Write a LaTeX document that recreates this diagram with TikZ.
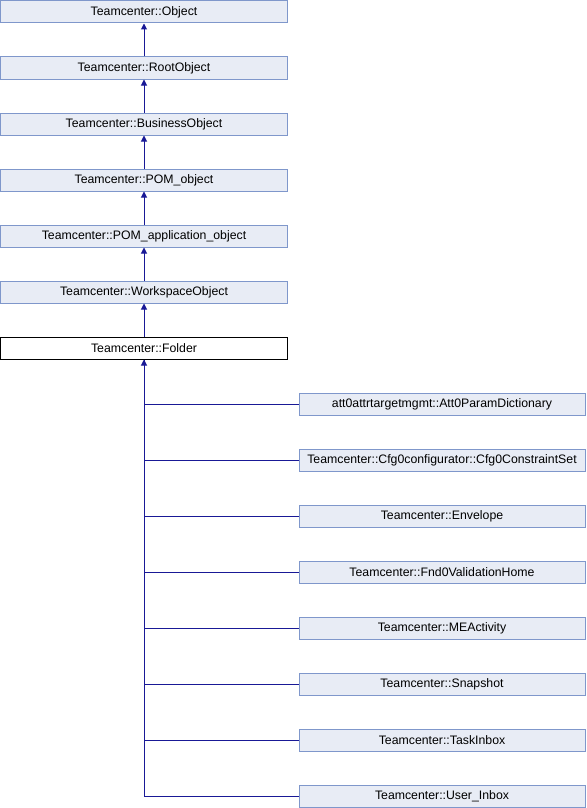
\documentclass[tikz,border=0pt]{standalone}
\usepackage{fontspec}
\setmainfont{Liberation Sans}
\usepackage{xcolor}
\usepackage{tikz}
\usetikzlibrary{arrows.meta, positioning}
\definecolor{boxfill}{HTML}{E8ECF5}
\definecolor{boxdraw}{HTML}{7F97CB}
\definecolor{edgeblue}{HTML}{191996}
\tikzstyle{arrow} = [edgeblue, line width=1pt, -{Triangle[length=6pt,width=6pt]}]
\tikzstyle{link} = [edgeblue, line width=1pt]
\tikzstyle{classbox} = [rectangle, minimum width=287pt, minimum height=22pt, inner sep=0pt, text centered, draw=boxdraw, fill=boxfill, line width=1pt, font=\fontsize{12.3}{14}\selectfont]
\tikzstyle{childbox} = [classbox, minimum width=286pt]

\begin{document}
\begin{tikzpicture}[node distance=33pt, x=1pt, y=1pt]
    \useasboundingbox (0,0) rectangle (586,-808);

    % Ahnenreihe
    \node (obj) [classbox] at (144,-12) {Teamcenter::Object};
    \node (root) [classbox, below=of obj] {Teamcenter::RootObject};
    \node (bus) [classbox, below=of root] {Teamcenter::BusinessObject};
    \node (pom) [classbox, below=of bus] {Teamcenter::POM\_object};
    \node (pomapp) [classbox, below=of pom] {Teamcenter::POM\_application\_object};
    \node (ws) [classbox, below=of pomapp] {Teamcenter::WorkspaceObject};
    \node (folder) [classbox, fill=white, draw=black, below=of ws] {Teamcenter::Folder};

    % Unterklassen
    \node (dict) [childbox] at (442,-404) {att0attrtargetmgmt::Att0ParamDictionary};
    \node (cset) [childbox, below=of dict] {Teamcenter::Cfg0configurator::Cfg0ConstraintSet};
    \node (env) [childbox, below=of cset] {Teamcenter::Envelope};
    \node (valid) [childbox, below=of env] {Teamcenter::Fnd0ValidationHome};
    \node (meact) [childbox, below=of valid] {Teamcenter::MEActivity};
    \node (snap) [childbox, below=of meact] {Teamcenter::Snapshot};
    \node (task) [childbox, below=of snap] {Teamcenter::TaskInbox};
    \node (inbox) [childbox, below=of task] {Teamcenter::User\_Inbox};

    % Vererbung
    \draw [arrow] (root) -- (obj);
    \draw [arrow] (bus) -- (root);
    \draw [arrow] (pom) -- (bus);
    \draw [arrow] (pomapp) -- (pom);
    \draw [arrow] (ws) -- (pomapp);
    \draw [arrow] (folder) -- (ws);

    \draw [link] (dict.west) -| (folder.south);
    \draw [link] (cset.west) -| (folder.south);
    \draw [link] (env.west) -| (folder.south);
    \draw [link] (valid.west) -| (folder.south);
    \draw [link] (meact.west) -| (folder.south);
    \draw [link] (snap.west) -| (folder.south);
    \draw [link] (task.west) -| (folder.south);
    \draw [arrow] (inbox.west) -| (folder.south);
\end{tikzpicture}
\end{document}
